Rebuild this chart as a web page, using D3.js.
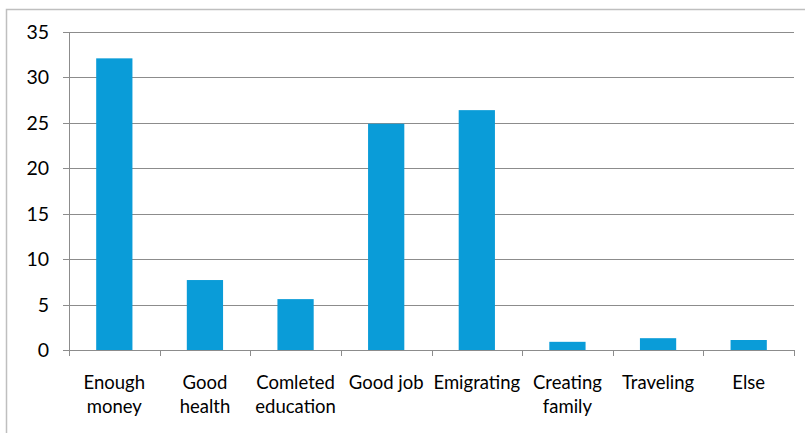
<!DOCTYPE html>
<html><head><meta charset="utf-8">
<script src="https://cdn.jsdelivr.net/npm/d3@7"></script>
<style>body{margin:0;background:#fff}svg{display:block}text{font-family:Lato,"Open Sans",sans-serif}</style>
</head><body><svg id="c" width="805" height="433"></svg>
<script>
const categories = [["Enough","money"],["Good","health"],["Comleted","education"],["Good job"],["Emigrating"],["Creating","family"],["Traveling"],["Else"]];
const values = [32.1, 7.7, 5.6, 24.9, 26.4, 0.9, 1.3, 1.1];
const yTicks = [0,5,10,15,20,25,30,35];

const svg = d3.select("#c");
svg.append("rect").attr("x",6.5).attr("y",9.5).attr("width",820).attr("height",440)
  .attr("fill","none").attr("stroke","#bfbfbf").attr("stroke-width",1.5);

const pL=69, pR=794, pT=32, pB=350;
const x = d3.scaleBand().domain(d3.range(categories.length)).range([pL,pR]).paddingInner(0.6).paddingOuter(0.3);
const y = d3.scaleLinear().domain([0,35]).range([pB,pT]);

// gridlines
svg.append("g").selectAll("line").data(yTicks.filter(d=>d>0)).join("line")
  .attr("x1",pL-6).attr("x2",pR).attr("y1",d=>Math.round(y(d))+0.5).attr("y2",d=>Math.round(y(d))+0.5)
  .attr("stroke","#8c8c8c").attr("stroke-width",1);

// bars
svg.append("g").selectAll("rect").data(values).join("rect")
  .attr("x",(d,i)=>x(i)).attr("width",x.bandwidth())
  .attr("y",d=>y(d)).attr("height",d=>pB-y(d))
  .attr("fill","#0a9cd8");

// axes
svg.append("line").attr("x1",pL+0.5).attr("x2",pL+0.5).attr("y1",pT).attr("y2",pB).attr("stroke","#8c8c8c");
svg.append("line").attr("x1",pL-6).attr("x2",pR).attr("y1",pB+0.5).attr("y2",pB+0.5).attr("stroke","#8c8c8c");
svg.append("g").selectAll("text").data(yTicks).join("text")
  .attr("x",49).attr("y",d=>y(d)).attr("dy","0.36em").attr("text-anchor","end")
  .attr("font-size",19.5).attr("fill","#000").text(d=>d);

// x ticks
const step = (pR-pL)/categories.length;
svg.append("g").selectAll("line").data(d3.range(categories.length+1)).join("line")
  .attr("x1",i=>Math.round(pL+i*step)+0.5).attr("x2",i=>Math.round(pL+i*step)+0.5)
  .attr("y1",pB).attr("y2",pB+6).attr("stroke","#8c8c8c");

// x labels
const lab = svg.append("g").selectAll("text").data(categories).join("text")
  .attr("x",(d,i)=>x(i)+x.bandwidth()/2).attr("y",389).attr("text-anchor","middle")
  .attr("font-size",18.5).attr("fill","#000");
lab.selectAll("tspan").data(d=>d).join("tspan")
  .attr("x",function(){return this.parentNode.getAttribute("x");})
  .attr("dy",(d,i)=>i?24:0).text(d=>d);
</script></body></html>
